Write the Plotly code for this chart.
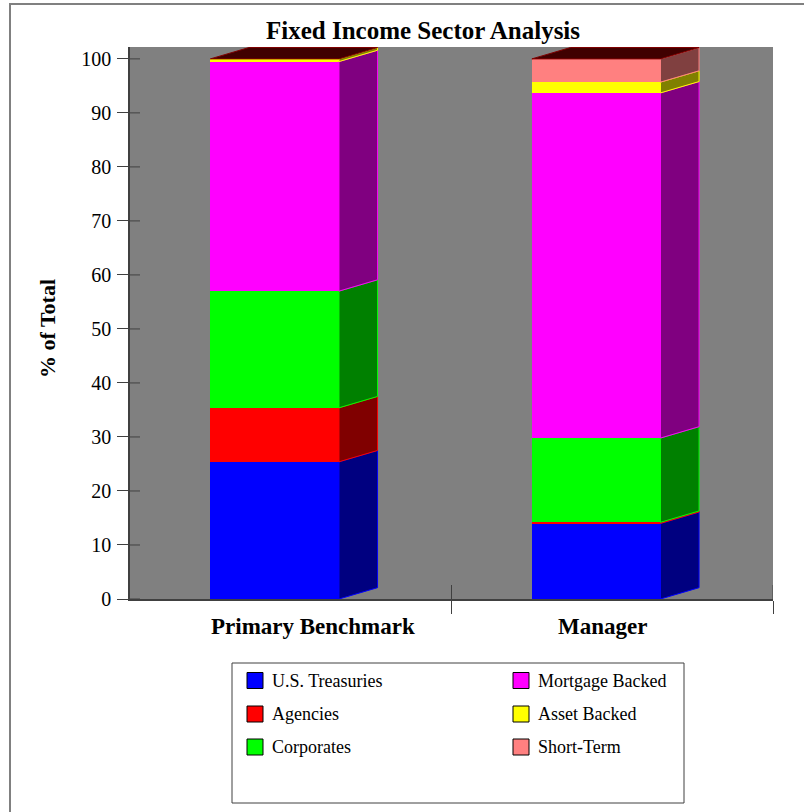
import plotly.graph_objects as go

# ---- data -------------------------------------------------------------
categories = ["Primary Benchmark", "Manager"]
sectors = ["U.S. Treasuries", "Agencies", "Corporates",
           "Mortgage Backed", "Asset Backed", "Short-Term"]
benchmark = [25.4, 10.0, 21.6, 42.5, 0.5, 0.0]
manager = [14.0, 0.2, 15.6, 63.9, 2.0, 4.3]
y_ticks = [0, 10, 20, 30, 40, 50, 60, 70, 80, 90, 100]
x_ticks = [0.5, 1.5]

# ---- styling ----------------------------------------------------------
face_colors = ["#0000FF", "#FF0000", "#00FF00", "#FF00FF", "#FFFF00", "#FF8080"]
side_colors = ["#000080", "#800000", "#008000", "#800080", "#808000", "#804040"]
top_color = "#400000"
top_edge = "#800000"
axis_color = "#404040"
SERIF = "Liberation Serif, Times New Roman, serif"

W, H = 804, 812
ML, MR, MT, MB = 130, 31, 47, 213
PW, PH = W - ML - MR, H - MT - MB

# 3-D bar geometry (x in category units, y in data units)
FRONT_OFFSET = -0.25
FRONT_WIDTH = 0.40
DEPTH_X = 0.12
DEPTH_Y = 2.1
Y_MAX = 102.2


def paper_x(px):
    return (px - ML) / PW


def paper_y(py):
    return (H - MB - py) / PH


series = [benchmark, manager]
xpos = list(range(len(categories)))

fig = go.Figure()

# front faces: ordinary stacked bars
for i, name in enumerate(sectors):
    fig.add_trace(go.Bar(
        x=xpos, y=[s[i] for s in series], name=name,
        offset=FRONT_OFFSET, width=FRONT_WIDTH,
        marker=dict(color=face_colors[i], line=dict(width=0)),
        showlegend=False, hoverinfo="x+y+name",
    ))

# side faces and top faces, derived from the stacked totals
for c, vals in zip(xpos, series):
    x0 = c + FRONT_OFFSET
    x1 = x0 + FRONT_WIDTH
    lo = 0.0
    for i, v in enumerate(vals):
        hi = lo + v
        if v > 0:
            fig.add_trace(go.Scatter(
                x=[x1, x1 + DEPTH_X, x1 + DEPTH_X, x1, x1],
                y=[lo, lo + DEPTH_Y, hi + DEPTH_Y, hi, lo],
                mode="lines", fill="toself",
                fillcolor=side_colors[i],
                line=dict(color=face_colors[i], width=1),
                showlegend=False, hoverinfo="skip",
            ))
        lo = hi
    total = lo
    fig.add_trace(go.Scatter(
        x=[x0, x0 + DEPTH_X, x1 + DEPTH_X, x1, x0],
        y=[total, total + DEPTH_Y, total + DEPTH_Y, total, total],
        mode="lines", fill="toself", fillcolor=top_color,
        line=dict(color=top_edge, width=1),
        showlegend=False, hoverinfo="skip",
    ))

# category labels
label_x = [0.07, 0.97]
annotations = []
for lx, name in zip(label_x, categories):
    annotations.append(dict(
        x=lx, xref="x", y=paper_y(626), yref="paper",
        text=f"<b>{name}</b>", showarrow=False,
        font=dict(family=SERIF, size=23, color="black"),
        xanchor="center", yanchor="middle",
    ))

# y axis title
annotations.append(dict(
    x=paper_x(47), xref="paper", y=paper_y(329), yref="paper",
    text="<b>% of Total</b>", textangle=-90, showarrow=False,
    font=dict(family=SERIF, size=22, color="black"),
    xanchor="center", yanchor="middle",
))

shapes = []
# inner halves of the crossing tick marks (outer halves come from the axes)
for t in y_ticks:
    shapes.append(dict(type="line", xref="paper", yref="y",
                       x0=0, x1=paper_x(ML + 10), y0=t, y1=t,
                       line=dict(color=axis_color, width=1), layer="above"))
for t in x_ticks:
    shapes.append(dict(type="line", xref="x", yref="paper",
                       x0=t, x1=t, y0=0, y1=paper_y(H - MB - 14),
                       line=dict(color=axis_color, width=1), layer="above"))

# legend: framed box, two columns of three
shapes += [
    dict(type="rect", xref="paper", yref="paper",
         x0=paper_x(232), x1=paper_x(684), y0=paper_y(663), y1=paper_y(803),
         line=dict(color="#404040", width=1), fillcolor="white", layer="above"),
    # outer frame of the figure
    dict(type="rect", xref="paper", yref="paper",
         x0=paper_x(10), x1=paper_x(830), y0=paper_y(4), y1=paper_y(840),
         line=dict(color="#808080", width=2), layer="above"),
]
col_px = [247, 513]
row_py = [680.5, 714, 747]
for i, name in enumerate(sectors):
    col, row = divmod(i, 3)
    sx, sy = col_px[col], row_py[row]
    shapes.append(dict(
        type="rect", xref="paper", yref="paper",
        x0=paper_x(sx), x1=paper_x(sx + 16),
        y0=paper_y(sy + 8), y1=paper_y(sy - 8),
        fillcolor=face_colors[i], line=dict(color="black", width=1),
        layer="above",
    ))
    annotations.append(dict(
        x=paper_x(sx + 23), xref="paper", y=paper_y(sy), yref="paper",
        text=name, showarrow=False, xanchor="left", yanchor="middle",
        font=dict(family=SERIF, size=18, color="black"),
    ))

fig.update_layout(
    width=W, height=H,
    margin=dict(l=ML, r=MR, t=MT, b=MB, pad=0),
    paper_bgcolor="white", plot_bgcolor="#808080",
    barmode="stack", bargap=0, showlegend=False,
    title=dict(text="<b>Fixed Income Sector Analysis</b>",
               x=423 / W, xref="container", xanchor="center",
               y=1 - 30 / H, yref="container", yanchor="middle",
               font=dict(family=SERIF, size=25, color="black")),
    xaxis=dict(range=[-0.5, 1.5], showgrid=False, zeroline=False,
               showline=True, linecolor=axis_color, linewidth=1.5,
               tickvals=x_ticks, ticks="outside", ticklen=13,
               tickcolor=axis_color, tickwidth=1, showticklabels=False,
               fixedrange=True),
    yaxis=dict(range=[0, Y_MAX], showgrid=False, zeroline=False,
               showline=True, linecolor=axis_color, linewidth=1.5,
               tickvals=y_ticks, ticks="outside", ticklen=11,
               tickcolor=axis_color, tickwidth=1,
               tickfont=dict(family=SERIF, size=20, color="black"),
               ticklabelstandoff=2,
               fixedrange=True),
    annotations=annotations,
    shapes=shapes,
)

fig.write_html("out.html")
